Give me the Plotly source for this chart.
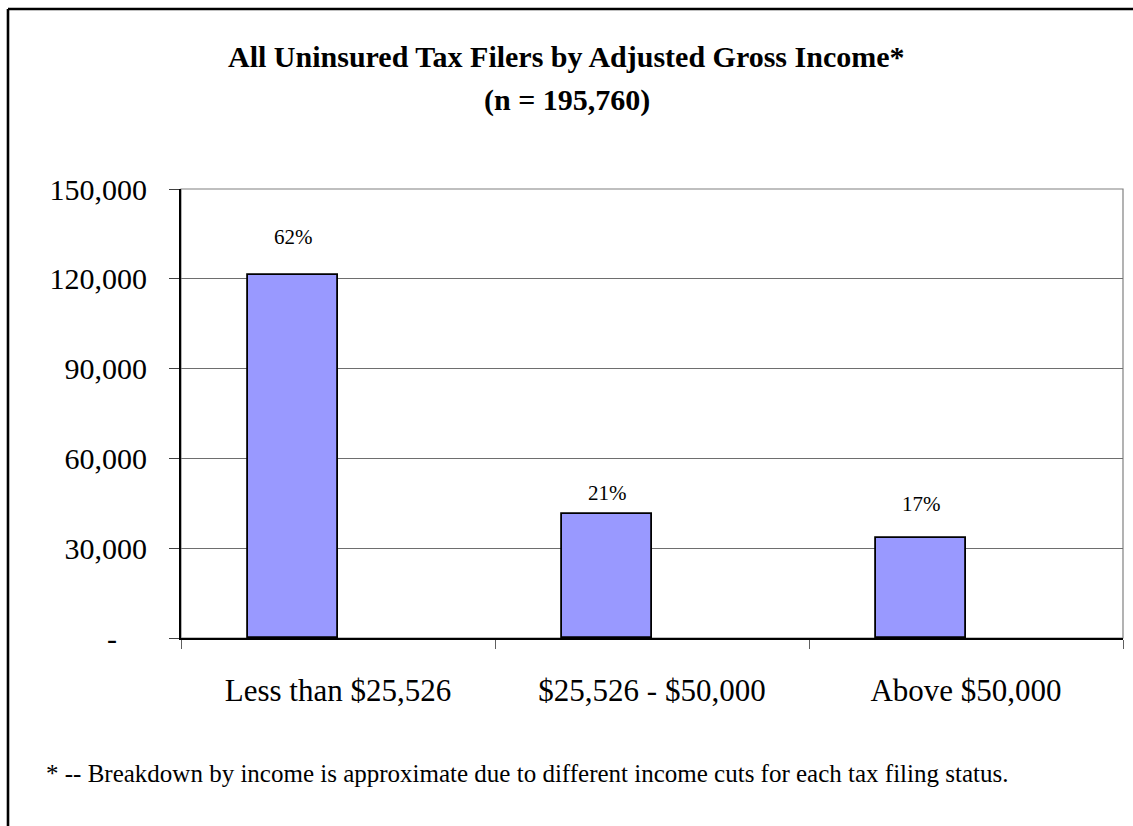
import plotly.graph_objects as go

# Income brackets and number of uninsured tax filers in each
categories = ["Less than $25,526", "$25,526 - $50,000", "Above $50,000"]
filers = [121200, 41300, 33260]
total_filers = 195760

y_tickvals = [0, 30000, 60000, 90000, 120000, 150000]
y_ticktext = ["-\u00a0\u00a0\u00a0\u00a0", "30,000", "60,000", "90,000", "120,000", "150,000"]

shares = [round(v / total_filers * 100) for v in filers]

SERIF = "Liberation Serif"
BAR_W = 0.2857           # clustered-column slot width (gap width 150%)
label_lift = [24, 7, 20]  # pixel lift of each share label above its bar

fig = go.Figure()
fig.add_trace(go.Bar(
    x=categories,
    y=filers,
    width=BAR_W,
    offset=-BAR_W,
    marker=dict(color="#9999FF", line=dict(color="#000000", width=1.8)),
    hoverinfo="x+y",
    showlegend=False,
))

annotations = []
for i, (v, s) in enumerate(zip(filers, shares)):
    annotations.append(dict(
        x=i - BAR_W / 2, y=v, xref="x", yref="y",
        text=f"{s}%", showarrow=False, yanchor="bottom",
        yshift=label_lift[i],
        font=dict(family=SERIF, size=21, color="#000000"),
    ))

W, H = 1133, 826
ML, MR, MT, MB = 181, 10, 189, 188
PW, PH = W - ML - MR, H - MT - MB


def px_to_paper_x(px):
    return (px - ML) / PW


def px_to_paper_y(py):
    return (H - MB - py) / PH


title_font = dict(family=SERIF, size=30, color="#000000", weight=700)

# Title (two lines) and footnote, placed in page pixels
annotations += [
    dict(x=px_to_paper_x(W / 2), y=px_to_paper_y(57), xref="paper", yref="paper",
         xanchor="center", yanchor="middle",
         text="All Uninsured Tax Filers by Adjusted Gross Income*",
         showarrow=False, font=title_font),
    dict(x=px_to_paper_x(W / 2), y=px_to_paper_y(100), xref="paper", yref="paper",
         xanchor="center", yanchor="middle",
         text="(n = 195,760)",
         showarrow=False, font=title_font),
    dict(x=px_to_paper_x(44), y=px_to_paper_y(773), xref="paper", yref="paper",
         xanchor="left", yanchor="middle",
         text="* -- Breakdown by income is approximate due to different income cuts for each tax filing status.",
         showarrow=False, font=dict(family=SERIF, size=25, color="#000000")),
]

shapes = [
    # grey frame of the plot area
    dict(type="rect", xref="paper", yref="paper", x0=0, x1=1, y0=0, y1=1,
         line=dict(color="#808080", width=1.2), layer="below"),
    # outer chart border (top and left edges)
    dict(type="line", xref="paper", yref="paper",
         x0=px_to_paper_x(8), x1=px_to_paper_x(W + 5), y0=px_to_paper_y(9), y1=px_to_paper_y(9),
         line=dict(color="#000000", width=2.6)),
    dict(type="line", xref="paper", yref="paper",
         x0=px_to_paper_x(8), x1=px_to_paper_x(8), y0=px_to_paper_y(9), y1=px_to_paper_y(H + 5),
         line=dict(color="#000000", width=2.6)),
]

fig.update_layout(
    width=W, height=H,
    margin=dict(l=ML, r=MR, t=MT, b=MB, pad=0),
    paper_bgcolor="#FFFFFF",
    plot_bgcolor="#FFFFFF",
    annotations=annotations,
    shapes=shapes,
    bargap=0,
    font=dict(family=SERIF, color="#000000"),
)

fig.update_xaxes(
    type="category",
    range=[-0.5, 2.5],
    showgrid=False,
    showline=True, linecolor="#000000", linewidth=2,
    ticks="outside", tickson="boundaries", ticklen=9, tickcolor="#606060", tickwidth=1,
    ticklabelstandoff=24,
    tickfont=dict(family=SERIF, size=31, color="#000000"),
    zeroline=False,
)
fig.update_yaxes(
    range=[0, 150000],
    tickvals=y_tickvals, ticktext=y_ticktext,
    showgrid=True, gridcolor="#6e6e6e", gridwidth=1,
    showline=True, linecolor="#000000", linewidth=2,
    ticks="outside", ticklen=10, tickcolor="#404040", tickwidth=1,
    ticklabelstandoff=16,
    tickfont=dict(family=SERIF, size=30, color="#000000"),
    zeroline=False,
)

fig.write_html("out.html")
